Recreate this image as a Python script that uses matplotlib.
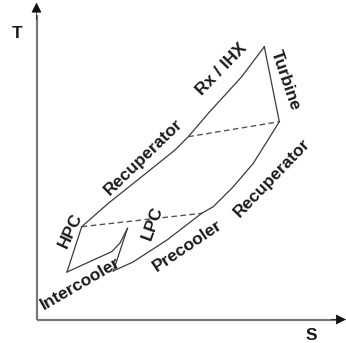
import matplotlib
matplotlib.use("Agg")
import matplotlib.pyplot as plt

plt.rcParams['font.family'] = ['Liberation Sans', 'DejaVu Sans']

# T-S cycle, values (arbitrary units)
hp_s = [45.2, 71.8, 105.2, 138.5, 151.8, 171.8, 205.2, 227.8]   # HP recuperator + Rx/IHX
hp_t = [92.8, 116.2, 142.8, 169.5, 182.8, 206.2, 242.8, 272.8]
turb_s = [227.8, 242.8]
turb_t = [272.8, 197.8]
lp_s = [242.8, 233.5, 216.8, 196.8, 176.8, 165.2]               # LP recuperator
lp_t = [197.8, 182.8, 156.2, 132.8, 112.8, 106.2]
pre_s = [165.2, 130.5, 96.5, 76.8]                                # precooler
pre_t = [106.2, 79.5, 57.5, 48.5]
lpc_s = [76.8, 91.0]
lpc_t = [48.5, 91.2]
ic_s = [91.0, 83.5, 75.5, 63.5, 30.5]                             # intercooler
ic_t = [91.2, 76.5, 68.0, 62.5, 47.5]
hpc_s = [30.5, 45.2]
hpc_t = [47.5, 92.8]
dash1_s = [45.2, 165.2]
dash1_t = [92.8, 106.2]
dash2_s = [151.8, 242.8]
dash2_t = [182.8, 197.8]

labels = ["Rx / IHX", "Recuperator", "Turbine", "Recuperator", "Precooler", "LPC", "HPC", "Intercooler"]
lab_s = [183.5, 106, 250.5, 234, 150.5, 115, 33, 43.5]
lab_t = [251.5, 164, 240, 142.5, 75, 96.5, 89.5, 37.5]
lab_rot = [46, 44, -71, 46, 34, 70, 65, 30]

fig = plt.figure(figsize=(3.46, 3.43), dpi=100)
ax = fig.add_axes([36.5 / 346, 23.5 / 343, 309.5 / 346, 318 / 343])
ax.set_xlim(0, 309.5)
ax.set_ylim(0, 318)
ax.axis('off')

lc = '#3a3a3a'
for s, t in [(hp_s, hp_t), (turb_s, turb_t), (lp_s, lp_t), (pre_s, pre_t),
             (lpc_s, lpc_t), (ic_s, ic_t), (hpc_s, hpc_t)]:
    ax.plot(s, t, color=lc, lw=0.9, solid_joinstyle='miter')
for s, t in [(dash1_s, dash1_t), (dash2_s, dash2_t)]:
    ax.plot(s, t, color='#555555', lw=1.0, dashes=(4, 2.5))

# axes with arrow heads
ax.plot([0, 0], [0, 305], color='#777777', lw=1.6, solid_capstyle='butt', clip_on=False)
ax.plot([0, 300], [0, 0], color='#777777', lw=1.6, solid_capstyle='butt', clip_on=False)
ax.annotate('', xy=(0, 317), xytext=(0, 300),
            arrowprops=dict(arrowstyle='-|>', color='#111111', lw=0.5,
                            mutation_scale=16, shrinkA=0, shrinkB=0), annotation_clip=False)
ax.annotate('', xy=(309.5, 0), xytext=(295, 0),
            arrowprops=dict(arrowstyle='-|>', color='#111111', lw=0.5,
                            mutation_scale=16, shrinkA=0, shrinkB=0), annotation_clip=False)

for txt, s, t, r in zip(labels, lab_s, lab_t, lab_rot):
    ax.text(s, t, txt, rotation=r, rotation_mode='anchor', ha='center', va='center_baseline',
            fontsize=12.5, fontweight='bold', color='#1a1a1a')

ax.text(-19.5, 286.5, 'T', fontsize=12.5, fontweight='bold', ha='center', va='center',
        color='#1a1a1a', clip_on=False)
ax.text(275, -15.5, 'S', fontsize=12.5, fontweight='bold', ha='center', va='center',
        color='#1a1a1a', clip_on=False)

fig.savefig('out.png', dpi=100)
